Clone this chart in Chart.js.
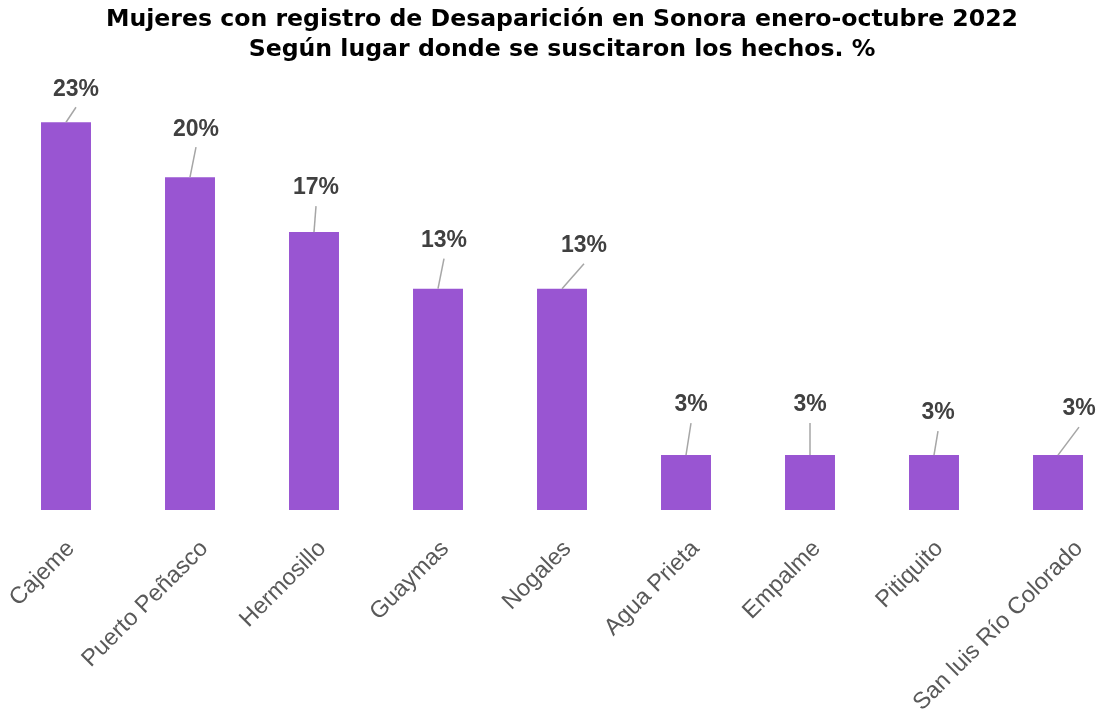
<!DOCTYPE html>
<html>
<head>
<meta charset="utf-8">
<script src="https://cdn.jsdelivr.net/npm/chart.js@4.4.1/dist/chart.umd.min.js"></script>
<style>
  html, body { margin: 0; padding: 0; background: #ffffff; overflow: hidden; }
  #wrap { position: relative; width: 1122px; height: 713px; }
</style>
</head>
<body>
<div id="wrap"><canvas id="c"></canvas></div>
<script>
// ---- data ----
const categories = ["Cajeme", "Puerto Peñasco", "Hermosillo", "Guaymas", "Nogales", "Agua Prieta", "Empalme", "Pitiquito", "San luis Río Colorado"];
const percentValues = [23.3, 20.0, 16.7, 13.3, 13.3, 3.3, 3.3, 3.3, 3.3];
const titleLines = ["Mujeres con registro de Desaparición en Sonora enero-octubre 2022", "Según lugar donde se suscitaron los hechos. %"];

// ---- label leader-line offsets (style only) ----
const leaderOffsets = [[10, -15], [6, -30], [2, -26], [6, -30], [22, -25], [5, -32], [0, -32], [4, -24], [21, -28]];

const leaderLabels = {
  id: 'leaderLabels',
  afterDatasetsDraw(chart) {
    const ctx = chart.ctx;
    const meta = chart.getDatasetMeta(0);
    ctx.save();
    meta.data.forEach((bar, i) => {
      const x0 = bar.x, y0 = bar.y;
      const [dx, dy] = leaderOffsets[i];
      const x1 = x0 + dx, y1 = y0 + dy;
      ctx.strokeStyle = '#a6a6a6';
      ctx.lineWidth = 1.5;
      ctx.beginPath();
      ctx.moveTo(x0, y0);
      ctx.lineTo(x1, y1);
      ctx.stroke();
      ctx.fillStyle = '#404040';
      ctx.font = 'bold 23px "Liberation Sans", Arial, sans-serif';
      ctx.textAlign = 'center';
      ctx.textBaseline = 'middle';
      ctx.fillText(Math.round(percentValues[i]) + '%', x1, y1 - 18);
    });
    ctx.restore();
  }
};

// rotated category labels, anchored like the source (longer labels sit a bit further right)
const slantedTicks = {
  id: 'slantedTicks',
  afterDraw(chart) {
    const xs = chart.scales.x;
    const ctx = chart.ctx;
    ctx.save();
    ctx.font = '23.5px "Liberation Sans", Arial, sans-serif';
    ctx.fillStyle = '#595959';
    ctx.textAlign = 'right';
    ctx.textBaseline = 'middle';
    categories.forEach((lab, i) => {
      const px = xs.getPixelForTick(i);
      const w = ctx.measureText(lab).width;
      const ax = px + 0.109 * w - 3.8;
      const ay = xs.top + 35;
      ctx.save();
      ctx.translate(ax, ay);
      ctx.rotate(-Math.PI / 4);
      ctx.fillText(lab, 0, 0);
      ctx.restore();
    });
    ctx.restore();
  }
};

new Chart(document.getElementById('c'), {
  type: 'bar',
  data: {
    labels: categories,
    datasets: [{
      data: percentValues,
      backgroundColor: '#9955d2',
      borderWidth: 0,
      categoryPercentage: 1.0,
      barPercentage: 0.403
    }]
  },
  options: {
    responsive: true,
    maintainAspectRatio: false,
    animation: false,
    layout: { padding: { left: 4, right: 2, top: 0, bottom: 0 } },
    plugins: {
      legend: { display: false },
      tooltip: { enabled: false },
      title: {
        display: true,
        text: titleLines,
        color: '#000000',
        font: { family: '"DejaVu Sans", Verdana, sans-serif', size: 23.6, weight: 'bold', lineHeight: 1.271 },
        padding: { top: 5, bottom: 29 }
      }
    },
    scales: {
      x: {
        grid: { display: false, drawTicks: false },
        border: { display: false },
        ticks: { display: false, autoSkip: false },
        afterFit(scale) {
          scale.height = 203;
          scale.paddingLeft = 0;
          scale.paddingRight = 0;
        }
      },
      y: {
        display: false,
        min: 0,
        max: 25
      }
    }
  },
  plugins: [leaderLabels, slantedTicks]
});
</script>
</body>
</html>
